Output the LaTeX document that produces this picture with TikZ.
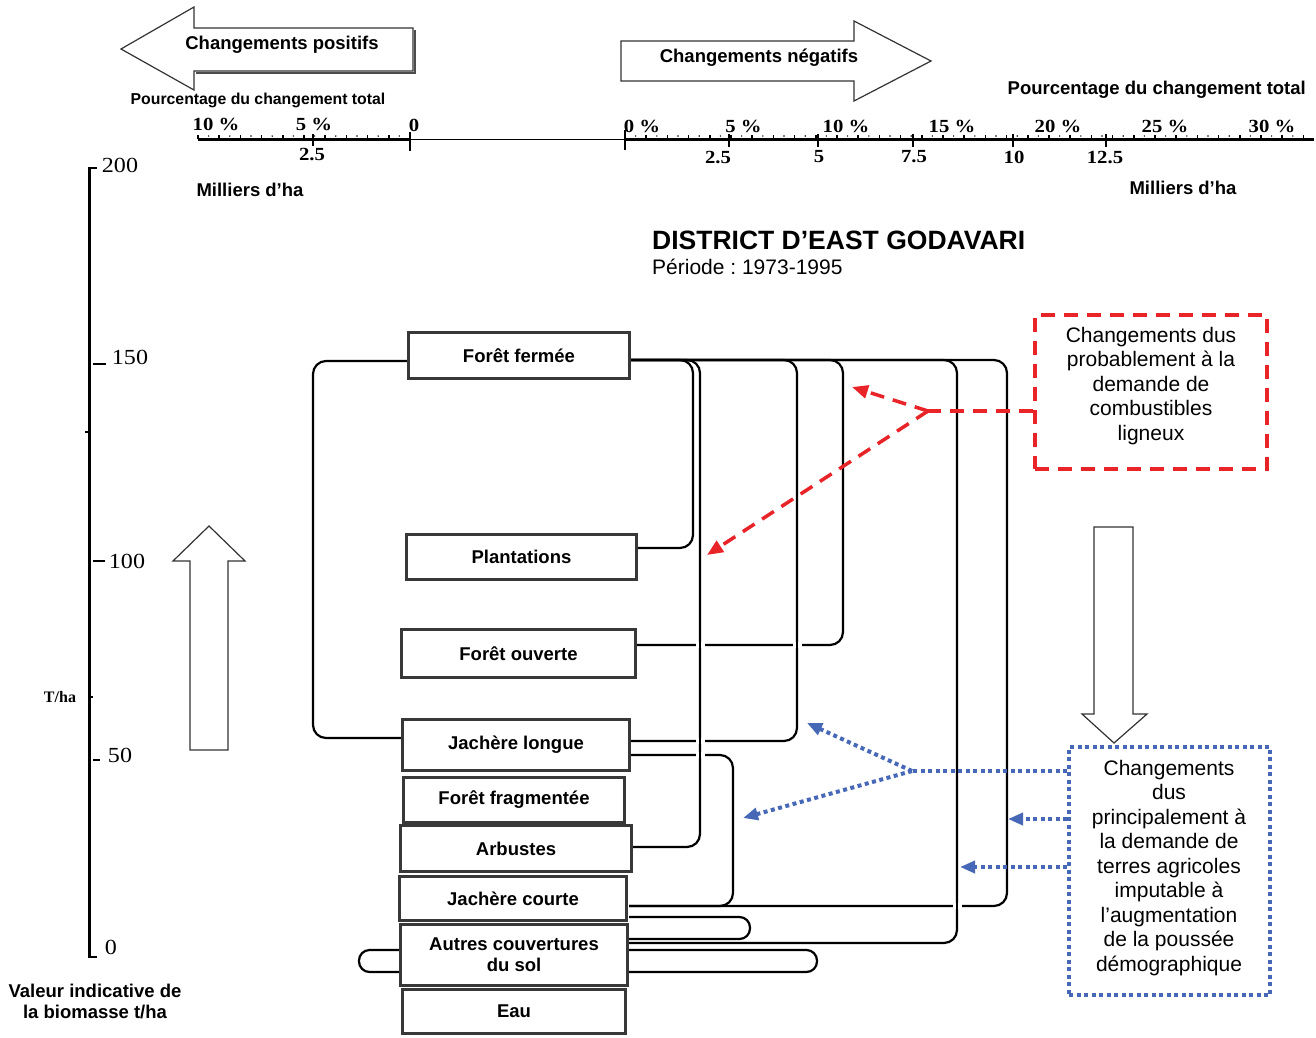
\documentclass[tikz,border=0pt]{standalone}
\usepackage{fontspec}
\setmainfont{Liberation Sans}
\newfontfamily\seriffam{Liberation Serif}
\usepackage{graphicx}
\usetikzlibrary{arrows.meta,calc}
\newcommand{\fs}[2]{\fontsize{#1}{#2}\selectfont}
\newcommand{\hst}[1]{\scalebox{1.12}[1]{#1}}
\definecolor{redc}{RGB}{232,36,40}
\definecolor{bluec}{RGB}{70,104,182}
\frenchspacing
\begin{document}
\begin{tikzpicture}[x=1pt,y=-1pt,
  conn/.style={line width=2.2pt, black, rounded corners=13pt},
  loopc/.style={line width=2.2pt, black, rounded corners=10.5pt},
  landbox/.style={draw=black!78, line width=3.2pt, fill=white, inner sep=0pt, font=\bfseries\fs{18.5}{21}, align=center},
  bigarrow/.style={draw=black!80, line width=1.2pt, fill=white},
  lbl/.style={font=\bfseries\fs{18.5}{21}, inner sep=0pt, align=center},
  redd/.style={draw=redc, line width=3.5pt, dash pattern=on 14pt off 9pt},
  blued/.style={draw=bluec, line width=4pt, dash pattern=on 4pt off 3.5pt},
  sclbl/.style={font=\seriffam\bfseries\fs{18.5}{20}, inner sep=0pt},
  axlbl/.style={font=\seriffam\fs{21.5}{24}, inner sep=0pt},
  gaptick/.style={line width=2.2pt, black}
]
\useasboundingbox (0,0) rectangle (1316,1037);

% ---------- top arrows ----------
\draw[black!70, line width=1.2pt] (196,73) -- (415,73) -- (415,30);
\draw[bigarrow] (121,49) -- (194,7) -- (194,28) -- (413,28) -- (413,71) -- (194,71) -- (194,90) -- cycle;
\node[lbl] (tpos) at (282,45) {Changements positifs};
\draw[bigarrow] (621,41) -- (854,41) -- (854,21) -- (931,61) -- (854,101) -- (854,81) -- (621,81) -- cycle;
\node[lbl] (tneg) at (759,58) {Changements négatifs};

\node[font=\bfseries\fs{15.8}{18}, inner sep=0pt] (pcl) at (258,100) {Pourcentage du changement total};
\node[lbl, anchor=east] (pcr) at (1306,90) {Pourcentage du changement total};
\node[lbl] (mhl) at (250,190) {Milliers d’ha};
\node[lbl] (mhr) at (1183,188) {Milliers d’ha};

% ---------- scales ----------
\draw[line width=3pt] (198,139) -- (410,139);
\draw[line width=1pt] (410,139) -- (625,139);
\draw[line width=3pt] (625,139) -- (1314,139);
\draw[line width=1.5pt] (410,132) -- (410,151);
\draw[line width=1.5pt] (625,130) -- (625,150);
\foreach \k in {1,...,10}{
  \draw[line width=1.6pt] (410-21.2*\k,139) -- (410-21.2*\k,135);
  \fill (410-21.2*\k+10.6,136) circle (0.8pt);
}
\foreach \k in {1,...,32}{
  \draw[line width=1.6pt] (625+21.2*\k,139) -- (625+21.2*\k,135);
  \fill (625+21.2*\k-10.6,136) circle (0.8pt);
}
\draw[line width=2.2pt] (313,134) -- (313,146);
\foreach \t in {729,818,913,1013,1106}{
  \draw[line width=2.4pt] (\t,134) -- (\t,147);
}
\node[sclbl] at (216,124) {\hst{10 \%}};
\node[sclbl] at (314,124) {\hst{5 \%}};
\node[sclbl] at (414,125) {\hst{0}};
\node[sclbl] at (312,154) {\hst{2.5}};
\foreach \p/\lab in {642/0, 743.5/5, 846/10, 952/15, 1058/20, 1165/25, 1272/30}{
  \node[sclbl] at (\p,126) {\hst{\lab\ \%}};
}
\foreach \p/\lab in {718/2.5, 819/5, 914/7.5, 1014/10, 1105/12.5}{
  \node[sclbl] at (\p,157) {\hst{\lab}};
}

% ---------- left axis ----------
\draw[line width=2.8pt, line join=miter] (97,168) -- (89.5,168) -- (89.5,957) -- (97,957);
\draw[line width=1.3pt] (93,364) -- (106,364);
\draw[line width=1.3pt] (85,432) -- (89,432);
\draw[line width=1.3pt] (93,561) -- (105,561);
\draw[line width=1.3pt] (89,697) -- (93,697);
\draw[line width=1.3pt] (93,760) -- (100,760);
\node[axlbl] at (120,165) {\hst{200}};
\node[axlbl] at (130,357) {\hst{150}};
\node[axlbl] at (127,561) {\hst{100}};
\node[font=\seriffam\bfseries\fs{16}{18}, inner sep=0pt] at (60,697) {T/ha};
\node[axlbl] at (120,755) {\hst{50}};
\node[axlbl] at (111,947) {\hst{0}};
\node[lbl] (vib) at (95,1001) {Valeur indicative de\\la biomasse t/ha};

% ---------- big vertical arrows ----------
\draw[bigarrow] (190,750) -- (190,561) -- (173,561) -- (209,526) -- (245,561) -- (228,561) -- (228,750) -- cycle;
\draw[bigarrow] (1094,527) -- (1133,527) -- (1133,714) -- (1147,714) -- (1114,743) -- (1082,714) -- (1094,714) -- cycle;

% ---------- title ----------
\node[font=\bfseries\fs{26.5}{30}, anchor=west, inner sep=0pt] (ttl) at (652,240) {DISTRICT D’EAST GODAVARI};
\node[font=\fs{21}{24}, anchor=west, inner sep=0pt] (per) at (652,267) {Période : 1973-1995};

% ---------- connectors (drawn before boxes) ----------
\coordinate (ffr) at (631,360);
\draw[conn] (ffr) -- (843,360) -- (843,645) -- (637,645);
\draw[conn] (ffr) -- (1007,360) -- (1007,906) -- (629,906);
\draw[conn] (631,755) -- (733,755) -- (733,906) -- (629,906);
\draw[conn] (ffr) -- (797,360) -- (797,741) -- (631,741);
\draw[conn] (ffr) -- (957,360) -- (957,943) -- (629,943);
\draw[conn] (ffr) -- (700,360) -- (700,847) -- (633,847);
\draw[conn] (ffr) -- (693,360) -- (693,548) -- (638,548);
\draw[conn] (407,361) -- (313,361) -- (313,738) -- (402,738);
\draw[loopc] (629,917) -- (750,917) -- (750,939) -- (629,939);
\draw[loopc] (629,950) -- (817,950) -- (817,972) -- (629,972);
\draw[loopc] (400,950) -- (359,950) -- (359,972) -- (400,972);
% crossing gaps
\foreach \cx/\cy in {700/645, 797/645, 700/741, 700/755, 957/906}{
  \fill[white] (\cx-4.5,\cy-3) rectangle (\cx+4.5,\cy+3);
  \draw[gaptick] (\cx,\cy-5) -- (\cx,\cy+5);
}

% ---------- land cover boxes ----------
\node[landbox, minimum width=221pt, minimum height=46pt] (ff) at (519,355.5) {Forêt fermée};
\node[landbox, minimum width=230pt, minimum height=45pt] (pl) at (521.5,557) {Plantations};
\node[landbox, minimum width=234pt, minimum height=48pt] (fo) at (518.5,653.5) {Forêt ouverte};
\node[landbox, minimum width=227pt, minimum height=51pt] (jl) at (516,745) {Jachère longue};
\node[landbox, minimum width=221pt, minimum height=45pt] (ffg) at (514,800) {Forêt fragmentée};
\node[landbox, minimum width=231pt, minimum height=46pt] (ar) at (516,848.5) {Arbustes};
\node[landbox, minimum width=227pt, minimum height=44pt] (jc) at (513,898.5) {Jachère courte};
\node[landbox, minimum width=227pt, minimum height=61pt] (au) at (514,955) {Autres couvertures\\du sol};
\node[landbox, minimum width=223pt, minimum height=44pt] (ea) at (514,1011.5) {Eau};

% ---------- red annotation ----------
\node[redd, minimum width=232pt, minimum height=154pt, inner sep=0pt] (rbox) at (1151,392) {};
\node[font=\fs{21}{24.5}, align=center, inner sep=0pt] (rtxt) at (1151,386) {Changements dus\\probablement à la\\demande de\\combustibles\\ligneux};
\coordinate (rj) at (928,411);
\coordinate (rt1) at (852,387);
\coordinate (rt2) at (707,555);
\draw[redd] (rbox.west |- rj) -- (rj);
\draw[redd, -{Triangle[length=16pt,width=13pt]}] (rj) -- (rt1);
\draw[redd, -{Triangle[length=16pt,width=13pt]}] (rj) -- (rt2);

% ---------- blue annotation ----------
\node[blued, minimum width=201pt, minimum height=248pt, inner sep=0pt] (bbox) at (1169.5,871) {};
\node[font=\fs{21}{24.5}, align=center, inner sep=0pt] (btxt) at (1169,868) {Changements\\dus\\principalement à\\la demande de\\terres agricoles\\imputable à\\l’augmentation\\de la poussée\\démographique};
\coordinate (bj) at (912,771);
\coordinate (bt1) at (807,723);
\coordinate (bt2) at (743,818);
\coordinate (bt3) at (1008,819);
\coordinate (bt4) at (960,867);
\draw[blued] (bbox.west |- bj) -- (bj);
\draw[blued, -{Triangle[length=15pt,width=12pt]}] (bj) -- (bt1);
\draw[blued, -{Triangle[length=15pt,width=12pt]}] (bj) -- (bt2);
\draw[blued, -{Triangle[length=15pt,width=12pt]}] (bbox.west |- bt3) -- (bt3);
\draw[blued, -{Triangle[length=15pt,width=12pt]}] (bbox.west |- bt4) -- (bt4);
\end{tikzpicture}
\end{document}
